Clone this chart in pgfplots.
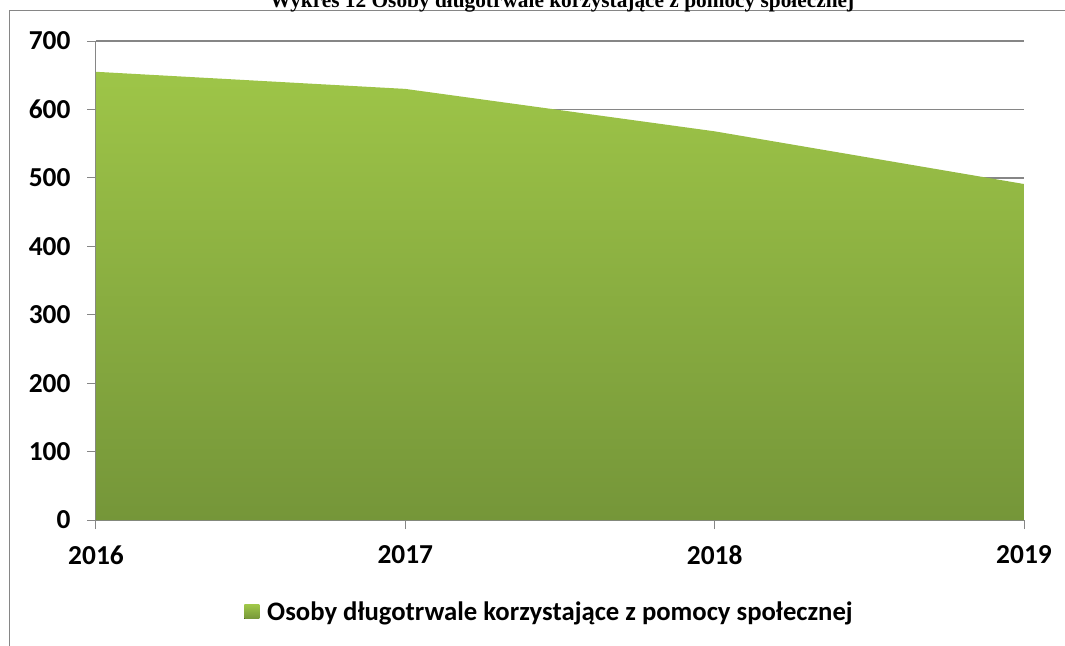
\documentclass[border=0pt]{standalone}
\usepackage{fontspec}
\setmainfont{Carlito}
\newfontfamily\titlefont{Liberation Serif}
\usepackage{pgfplots}
\pgfplotsset{compat=1.18}
\definecolor{gtop}{RGB}{158,197,72}
\definecolor{gbot}{RGB}{117,150,57}
\definecolor{gridc}{RGB}{134,134,134}
\begin{document}
\begin{tikzpicture}
\path[use as bounding box] (-96bp,-126bp) rectangle (969bp,520bp);
\clip (-96bp,-126bp) rectangle (969bp,520bp);
\draw[gridc, line width=1bp] (-86.5bp,-200bp) rectangle (1100bp,509.5bp);
\node[anchor=base, font=\titlefont\bfseries\fontsize{21.4}{24}\selectfont] at (466bp,512.5bp) {Wykres 12 Osoby długotrwale korzystające z pomocy społecznej};
\begin{axis}[
  scale only axis, width=928bp, height=479bp,
  xmin=2016, xmax=2019, ymin=0, ymax=700,
  xtick={2016,2017,2018,2019}, xticklabels={2016,2017,2018,2019},
  ytick={0,100,...,700},
  axis x line*=bottom, axis y line*=left,
  axis line style={gridc, line width=1bp, -},
  ymajorgrids, grid style={gridc, line width=1.5bp},
  tick style={gridc, line width=1bp},
  tick align=outside, major tick length=9bp,
  tick label style={font=\bfseries\fontsize{27.5}{30}\selectfont},
  /pgf/number format/assume math mode=true,
  xticklabel style={yshift=-13bp},
  yticklabel style={xshift=-13bp},
  legend style={at={(rel axis cs:0.4887,-0.192)}, anchor=center, draw=none, fill=none,
    font=\bfseries\fontsize{26.8}{30}\selectfont},
]
\addplot[draw=none, top color=gtop, bottom color=gbot,
  legend image code/.code={\fill[top color=gtop,bottom color=gbot] (0bp,-7bp) rectangle (15bp,7bp); \path (21bp,0bp);}]
  coordinates {(2016,655) (2017,630) (2018,568) (2019,491)} \closedcycle;
\addlegendentry{Osoby długotrwale korzystające z pomocy społecznej}
\end{axis}
\end{tikzpicture}
\end{document}
